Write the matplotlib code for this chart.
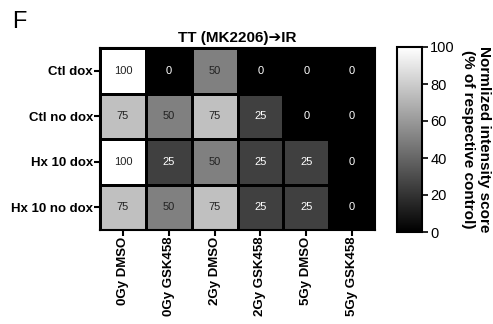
import numpy as np
import matplotlib.pyplot as plt

plt.rcParams['font.family'] = ['Liberation Sans', 'DejaVu Sans']

# Данные тепловой карты
rows = ['Ctl dox', 'Ctl no dox', 'Hx 10 dox', 'Hx 10 no dox']
cols = ['0Gy DMSO', '0Gy GSK458', '2Gy DMSO', '2Gy GSK458', '5Gy DMSO', '5Gy GSK458']
ctl_dox = [100, 0, 50, 0, 0, 0]
ctl_no_dox = [75, 50, 75, 25, 0, 0]
hx10_dox = [100, 25, 50, 25, 25, 0]
hx10_no_dox = [75, 50, 75, 25, 25, 0]
scores = np.array([ctl_dox, ctl_no_dox, hx10_dox, hx10_no_dox])

W, H = 493, 324
fig = plt.figure(figsize=(W / 100, H / 100), dpi=100)

def px_axes(x0, y0, x1, y1):
    return fig.add_axes([x0 / W, 1 - y1 / H, (x1 - x0) / W, (y1 - y0) / H])

ax = px_axes(100, 48, 375, 230)
mesh = ax.pcolormesh(scores, cmap='gray', vmin=0, vmax=100,
                     edgecolors='black', linewidth=0.8)
ax.set_xlim(0, len(cols))
ax.set_ylim(len(rows), 0)

for i in range(len(rows)):
    for j in range(len(cols)):
        v = scores[i, j]
        ax.text(j + 0.5, i + 0.5, str(v), ha='center', va='center',
                fontsize=8, color='white' if v < 40 else '#222222')

ax.set_xticks(np.arange(len(cols)) + 0.5)
ax.set_xticklabels(cols, rotation=90, fontsize=9.5, fontweight='bold')
ax.set_yticks(np.arange(len(rows)) + 0.5)
ax.set_yticklabels(rows, fontsize=9.5, fontweight='bold')
ax.tick_params(length=4, width=1.5, pad=1)
for s in ax.spines.values():
    s.set_linewidth(1.5)

ax.set_title('TT (MK2206)\u2794IR', fontsize=11, fontweight='bold', pad=4)

# Цветовая шкала
cax = px_axes(397, 47, 422, 232)
cb = fig.colorbar(mesh, cax=cax, ticks=[0, 20, 40, 60, 80, 100])
cb.outline.set_linewidth(1.5)
cax.tick_params(labelsize=10.5, length=4, width=1.2, pad=2)
cb.set_label('Normlized intensity score\n(% of respective control)',
             rotation=270, fontsize=11, fontweight='bold', labelpad=26)

fig.text(12 / W, 1 - 22 / H, 'F', fontsize=17, va='center', ha='left')

fig.savefig('out.png', dpi=100)
